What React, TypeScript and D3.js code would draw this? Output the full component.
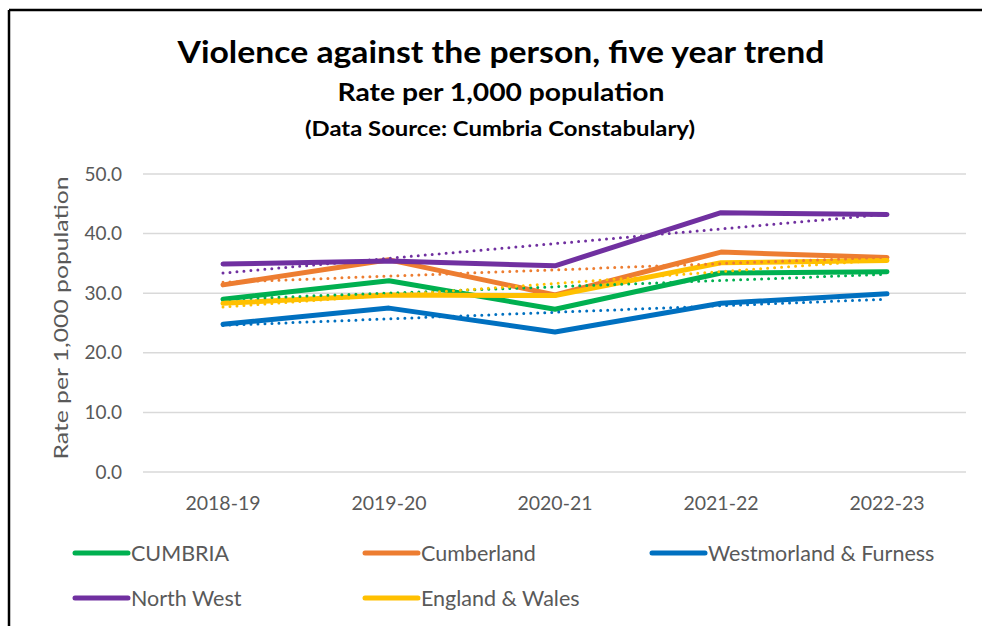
import React from "react";
import * as d3 from "d3";

const categories = ["2018-19", "2019-20", "2020-21", "2021-22", "2022-23"];
const seriesNames = ["CUMBRIA", "Cumberland", "Westmorland & Furness", "North West", "England & Wales"];
const seriesColors = ["#00B050", "#ED7D31", "#0070C0", "#7030A0", "#FFC000"];
const cumbria = [29.0, 32.1, 27.3, 33.4, 33.6];
const cumberland = [31.4, 35.6, 29.7, 36.9, 36.0];
const westmorland = [24.8, 27.5, 23.5, 28.3, 29.9];
const northWest = [34.9, 35.4, 34.6, 43.5, 43.2];
const englandWales = [28.3, 29.7, 29.6, 35.1, 35.5];
const yTicks = [0, 10, 20, 30, 40, 50];

const seriesValues = [cumbria, cumberland, westmorland, northWest, englandWales];

function trend(vals: number[]) {
  const xs = vals.map((_, i) => i);
  const mx = d3.mean(xs)!;
  const my = d3.mean(vals)!;
  let num = 0, den = 0;
  xs.forEach((x, i) => { num += (x - mx) * (vals[i] - my); den += (x - mx) * (x - mx); });
  const b = num / den;
  const a = my - b * mx;
  return xs.map((x) => a + b * x);
}

export default function App() {
  const W = 982, H = 626;
  const x = d3.scalePoint<string>().domain(categories).range([140, 970]).padding(0.5);
  const y = d3.scaleLinear().domain([0, 50]).range([472, 174]);
  const line = d3.line<number>().x((_, i) => x(categories[i])!).y((v) => y(v));
  const font = "Lato, 'Open Sans', sans-serif";
  const gray = "#595959";

  const legendPos = [
    { x: 75, y: 553 }, { x: 365, y: 553 }, { x: 652, y: 553 },
    { x: 75, y: 598 }, { x: 365, y: 598 },
  ];

  return (
    <svg width={W} height={H} style={{ position: "absolute", left: 0, top: 0 }}>
      <rect x={0} y={0} width={W} height={H} fill="#fff" />
      <line x1={9} y1={10} x2={W} y2={10} stroke="#000" strokeWidth={2.5} />
      <line x1={9} y1={10} x2={9} y2={H} stroke="#000" strokeWidth={2.5} />

      <text x={501} y={63} textAnchor="middle" fontFamily={font} fontWeight={700} fontSize={30} fill="#000" textLength={647} lengthAdjust="spacingAndGlyphs">Violence against the person, five year trend</text>
      <text x={501} y={101} textAnchor="middle" fontFamily={font} fontWeight={700} fontSize={24} fill="#000" textLength={327} lengthAdjust="spacingAndGlyphs">Rate per 1,000 population</text>
      <text x={500} y={136} textAnchor="middle" fontFamily={font} fontWeight={700} fontSize={20} fill="#000" textLength={390} lengthAdjust="spacingAndGlyphs">(Data Source: Cumbria Constabulary)</text>

      {yTicks.map((t) => (
        <g key={t}>
          <line x1={143} x2={966} y1={y(t)} y2={y(t)} stroke="#d9d9d9" strokeWidth={1.5} />
          <text x={122} y={y(t)} dy="0.35em" textAnchor="end" fontFamily={font} fontSize={19} fill={gray}>{t.toFixed(1)}</text>
        </g>
      ))}

      <text transform={`translate(68,318) rotate(-90)`} textAnchor="middle" fontFamily={font} fontSize={20} fill={gray} textLength={283} lengthAdjust="spacingAndGlyphs">Rate per 1,000 population</text>

      {categories.map((c) => (
        <text key={c} x={x(c)!} y={503} dy="0.35em" textAnchor="middle" fontFamily={font} fontSize={19.5} fill={gray}>{c}</text>
      ))}

      {seriesValues.map((vals, i) => (
        <path key={"s" + i} d={line(vals)!} fill="none" stroke={seriesColors[i]} strokeWidth={5} strokeLinejoin="round" strokeLinecap="round" />
      ))}
      {seriesValues.map((vals, i) => (
        <path key={"t" + i} d={line(trend(vals))!} fill="none" stroke={seriesColors[i]} strokeWidth={3} strokeDasharray="0 7" strokeLinecap="round" />
      ))}

      {seriesNames.map((n, i) => (
        <g key={n}>
          <line x1={legendPos[i].x} x2={legendPos[i].x + 53} y1={legendPos[i].y} y2={legendPos[i].y} stroke={seriesColors[i]} strokeWidth={5} strokeLinecap="round" />
          <text x={legendPos[i].x + 56} y={legendPos[i].y} dy="0.35em" fontFamily={font} fontSize={21.5} fill={gray}>{n}</text>
        </g>
      ))}
    </svg>
  );
}
